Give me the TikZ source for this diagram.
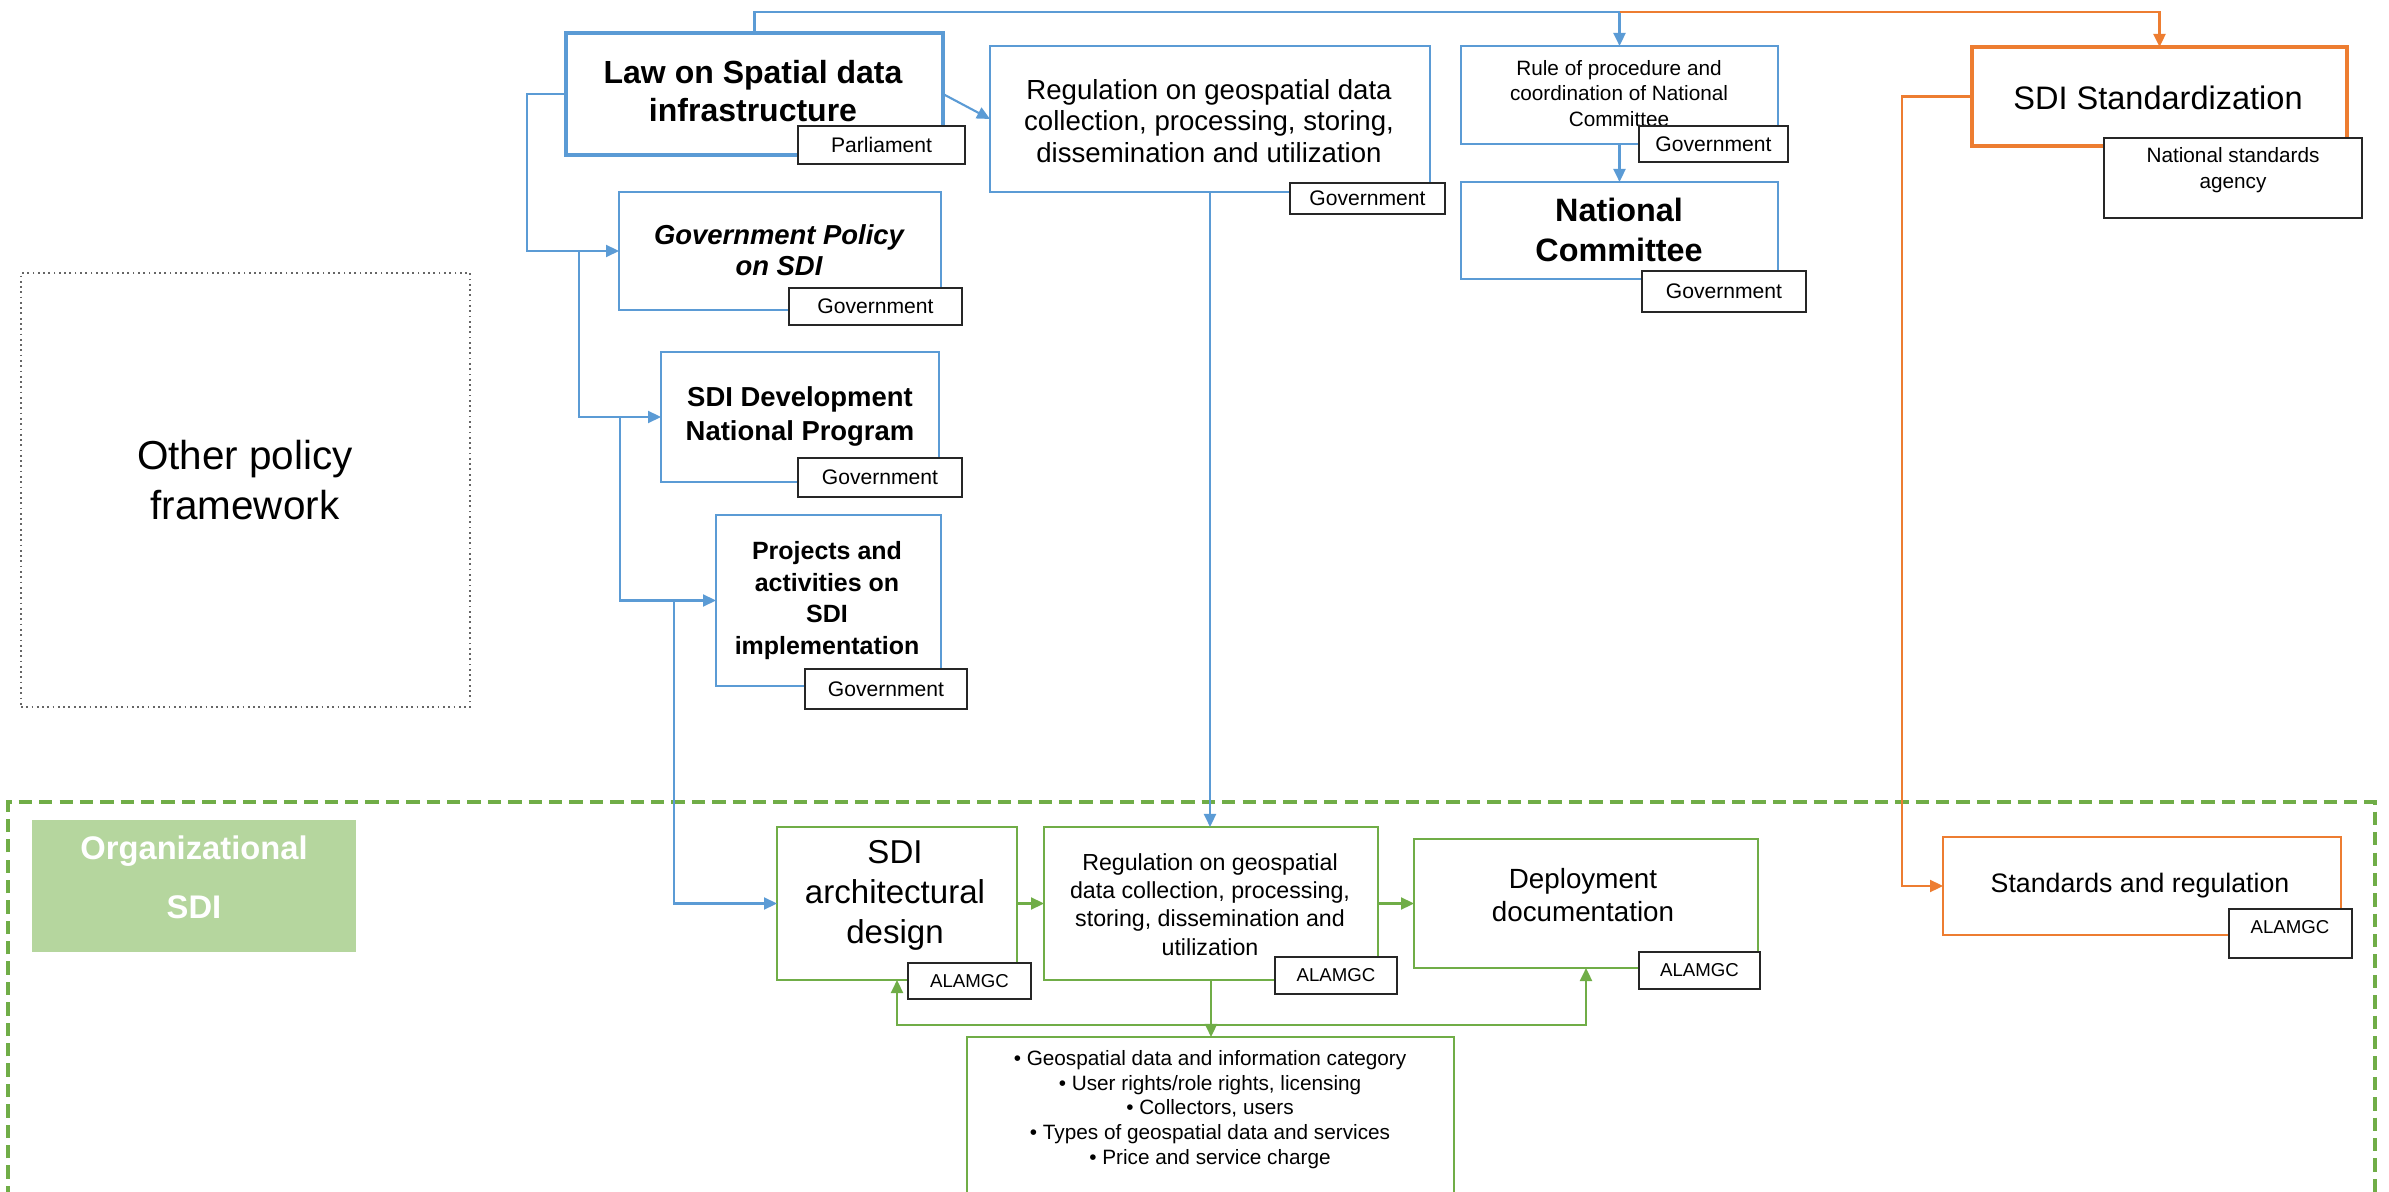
\documentclass[tikz,border=0pt]{standalone}
\usepackage{fontspec}
\setmainfont{Liberation Sans}
\usetikzlibrary{arrows.meta,fit}
\definecolor{cblue}{HTML}{5B9BD5}
\definecolor{corange}{HTML}{ED7D31}
\definecolor{cgreen}{HTML}{70AD47}
\definecolor{cgfill}{HTML}{B5D69E}
\begin{document}
\begin{tikzpicture}[x=0.01cm,y=-0.01cm,
  every node/.style={inner sep=0pt,outer sep=0pt},
  bluebox/.style={draw=cblue,line width=0.6pt,fill=white},
  lawbox/.style={draw=cblue,line width=1.2pt,fill=white},
  stdbox/.style={draw=corange,line width=1.2pt,fill=white},
  orbox/.style={draw=corange,line width=0.6pt,fill=white},
  grbox/.style={draw=cgreen,line width=0.6pt,fill=white},
  tagbox/.style={draw=black!85,line width=0.6pt,fill=white},
  tagtxt/.style={font=\fontsize{6}{7}\selectfont},
  gtagtxt/.style={font=\fontsize{5.3}{6.3}\selectfont},
  link/.style={line width=0.6pt,-{Triangle[length=1.3mm,width=1.2mm]}},
  bl/.style={link,draw=cblue},
  orl/.style={link,draw=corange},
  grl/.style={link,draw=cgreen},
  txt/.style={align=center},
]
\useasboundingbox (0,0) rectangle (2389,1192);
\clip (0,0) rectangle (2389,1192);

% container
\draw[cgreen,line width=1.15pt,dash pattern=on 3.8pt off 2pt] (8,1240) -- (8,802) -- (2375,802) -- (2375,1240);

% upper boxes
\node[lawbox,fit={(566,33)(943,155)}] (law) {};
\node[txt,font=\bfseries\fontsize{9.1}{10.8}\selectfont] (lawt) at (753,91) {Law on Spatial data\\infrastructure};
\node[bluebox,fit={(990,46)(1430,192)}] (reg) {};
\node[txt,font=\fontsize{7.85}{8.9}\selectfont] (regt) at (1209,121) {Regulation on geospatial data\\collection, processing, storing,\\dissemination and utilization};
\node[bluebox,fit={(1461,46)(1778,144)}] (rule) {};
\node[txt,font=\fontsize{5.9}{7.3}\selectfont] (rulet) at (1619,93.5) {Rule of procedure and\\coordination of National\\Committee};
\node[bluebox,fit={(1461,182)(1778,279)}] (nc) {};
\node[txt,font=\bfseries\fontsize{9.2}{11.4}\selectfont] (nct) at (1619,230) {National\\Committee};
\node[stdbox,fit={(1972,47)(2347,146)}] (std) {};
\node[font=\fontsize{9.25}{11}\selectfont] (stdt) at (2158,98) {SDI Standardization};
\node[bluebox,fit={(619,192)(941,310)}] (gp) {};
\node[txt,font=\bfseries\itshape\fontsize{7.8}{8.9}\selectfont] (gpt) at (779,250.5) {Government Policy\\on SDI};
\node[bluebox,fit={(661,352)(939,482)}] (dev) {};
\node[txt,font=\bfseries\fontsize{7.8}{9.4}\selectfont] (devt) at (800,416.5) {SDI Development\\National Program};
\node[bluebox,fit={(716,515)(941,686)}] (proj) {};
\node[txt,font=\bfseries\fontsize{7.1}{9}\selectfont] (projt) at (827,600.5) {Projects and\\activities on\\SDI\\implementation};
\node[draw=black!60,densely dotted,line width=0.5pt,fit={(21,273)(470,707)}] (other) {};
\node[txt,font=\fontsize{11.5}{14.2}\selectfont] (othert) at (245,480) {Other policy\\framework};

% lower boxes
\node[fill=cgfill,fit={(32,820)(356,952)}] (orgsdi) {};
\node[txt,text=white,font=\bfseries\fontsize{9.3}{16.8}\selectfont] (orgsdit) at (194,877) {Organizational\\SDI};
\node[grbox,fit={(777,827)(1017,980)}] (arch) {};
\node[txt,font=\fontsize{9.4}{11.4}\selectfont] (archt) at (895,895) {SDI\\architectural\\design};
\node[grbox,fit={(1044,827)(1378,980)}] (oreg) {};
\node[txt,font=\fontsize{6.6}{8.05}\selectfont] (oregt) at (1210,904.5) {Regulation on geospatial\\data collection, processing,\\storing, dissemination and\\utilization};
\node[grbox,fit={(1414,839)(1758,968)}] (dep) {};
\node[txt,font=\fontsize{7.9}{9.4}\selectfont] (dept) at (1583,895) {Deployment\\documentation};
\node[orbox,fit={(1943,837)(2341,935)}] (sr) {};
\node[font=\fontsize{7.6}{9}\selectfont] (srt) at (2140,886) {Standards and regulation};
\node[grbox,fit={(967,1037)(1454,1240)}] (bul) {};
\node[txt,font=\fontsize{5.9}{7.05}\selectfont] (bult) at (1210,1109.5) {\textbullet{} Geospatial data and information category\\\textbullet{} User rights/role rights, licensing\\\textbullet{} Collectors, users\\\textbullet{} Types of geospatial data and services\\\textbullet{} Price and service charge};

% connectors
\coordinate (tj) at (1619.5,12);
\draw[cblue,line width=0.6pt] (law.north) |- (tj);
\draw[bl] (tj) -- (rule.north);
\draw[orl] (tj) -| (std.north);
\draw[bl] (law.east) -- (reg.west);
\draw[bl] (rule.south) -- (nc.north);
\coordinate (j1) at (527,0);
\coordinate (j2) at (579,0);
\coordinate (j3) at (620,0);
\coordinate (j4) at (674,0);
\draw[bl] (law.west) -| (j1 |- gp.west) -- (gp.west);
\draw[bl] (j2 |- gp.west) |- (dev.west);
\draw[bl] (j3 |- dev.west) |- (proj.west);
\draw[bl] (j4 |- proj.west) |- (arch.west);
\draw[bl] (reg.south) -- (reg.south |- oreg.north);
\coordinate (sj) at (1902,0);
\draw[orl] (std.west) -| (sj |- sr.west) -- (sr.west);
\draw[grl] (arch.east) -- (oreg.west);
\draw[grl] (oreg.east) -- (dep.west);
\coordinate (fb) at (0,1025);
\draw[grl] (oreg.south) -- (oreg.south |- bul.north);
\draw[grl] (oreg.south |- fb) -| (arch.south);
\draw[grl] (oreg.south |- fb) -| (dep.south);

% tags
\node[tagbox,fit={(798,126)(965,164)}] (lawtag) {};
\node[tagtxt] (lawtagt) at (lawtag.center) {Parliament};
\node[tagbox,fit={(1290,183)(1445,214)}] (regtag) {};
\node[tagtxt] (regtagt) at (regtag.center) {Government};
\node[tagbox,fit={(1639,126)(1788,162)}] (ruletag) {};
\node[tagtxt] (ruletagt) at (ruletag.center) {Government};
\node[tagbox,fit={(1642,271)(1806,312)}] (nctag) {};
\node[tagtxt] (nctagt) at (nctag.center) {Government};
\node[tagbox,fit={(2104,138)(2362,218)}] (nsa) {};
\node[txt,font=\fontsize{5.9}{7.4}\selectfont] (nsat) at (2233,170) {National standards\\agency};
\node[tagbox,fit={(789,288)(962,325)}] (gptag) {};
\node[tagtxt] (gptagt) at (gptag.center) {Government};
\node[tagbox,fit={(798,458)(962,497)}] (devtag) {};
\node[tagtxt] (devtagt) at (devtag.center) {Government};
\node[tagbox,fit={(805,669)(967,709)}] (projtag) {};
\node[tagtxt] (projtagt) at (projtag.center) {Government};
\node[tagbox,fit={(908,963)(1031,999)}] (archtag) {};
\node[gtagtxt] (archtagt) at (archtag.center) {ALAMGC};
\node[tagbox,fit={(1275,957)(1397,994)}] (oregtag) {};
\node[gtagtxt] (oregtagt) at (oregtag.center) {ALAMGC};
\node[tagbox,fit={(1639,952)(1760,989)}] (deptag) {};
\node[gtagtxt] (deptagt) at (deptag.center) {ALAMGC};
\node[tagbox,fit={(2229,909)(2352,958)}] (srtag) {};
\node[gtagtxt] (srtagt) at (2290,927) {ALAMGC};
\end{tikzpicture}
\end{document}
